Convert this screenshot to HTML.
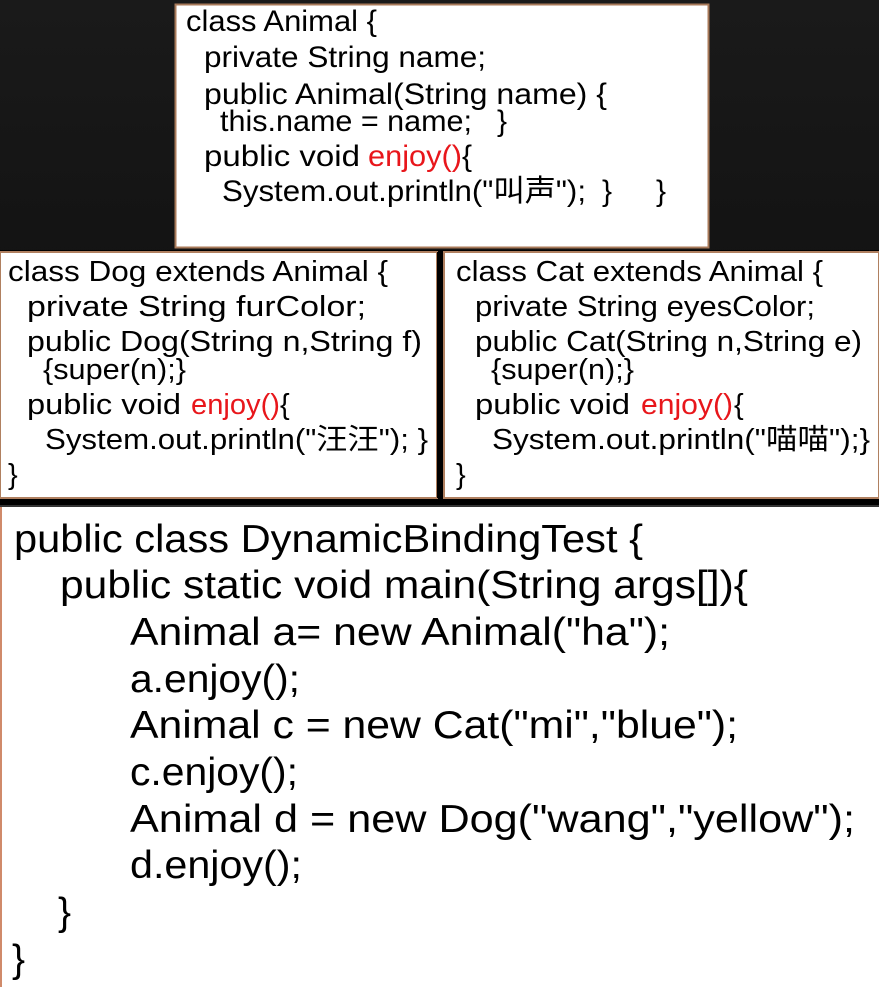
<!DOCTYPE html>
<html><head><meta charset="utf-8"><style>
html,body{margin:0;padding:0;background:#000;}
svg{display:block}
text{font-family:"Liberation Sans","Noto Sans CJK SC",sans-serif;fill:#000;white-space:pre}
.r{fill:#e8161b}
</style></head><body>
<svg width="879" height="987" viewBox="0 0 879 987" xmlns="http://www.w3.org/2000/svg">
<defs><linearGradient id="bg" x1="0" y1="0" x2="0" y2="1"><stop offset="0" stop-color="#1a1a1a"/><stop offset="1" stop-color="#000"/></linearGradient></defs>
<rect width="879" height="987" fill="url(#bg)"/>
<rect x="0" y="250" width="879" height="256" fill="#000"/>
<!-- top box -->
<rect x="175.5" y="4.5" width="533" height="243" fill="#fff" stroke="#a87a5a" stroke-width="2"/>
<g font-size="30">
<text x="186" y="31" textLength="191" lengthAdjust="spacingAndGlyphs">class Animal {</text>
<text x="204" y="67" textLength="282" lengthAdjust="spacingAndGlyphs">private String name;</text>
<text x="204" y="104" textLength="403" lengthAdjust="spacingAndGlyphs">public Animal(String name) {</text>
<text x="220" y="131" textLength="252" lengthAdjust="spacingAndGlyphs">this.name = name;</text>
<text x="497" y="131">}</text>
<text x="204" y="166" textLength="156" lengthAdjust="spacingAndGlyphs">public void</text>
<text x="368" y="166" textLength="94" lengthAdjust="spacingAndGlyphs" class="r">enjoy()</text>
<text x="462" y="166">{</text>
<text x="222" y="201" textLength="364" lengthAdjust="spacingAndGlyphs">System.out.println("叫声");</text>
<text x="602" y="201">}</text>
<text x="656" y="201">}</text>
</g>
<!-- dog box -->
<rect x="0" y="252" width="437" height="246" fill="#fff" stroke="#b08060" stroke-width="2"/>
<rect x="437" y="252" width="7" height="246" fill="#000"/>
<rect x="444" y="252" width="435" height="246" fill="#fff" stroke="#b08060" stroke-width="2"/>
<g font-size="29">
<text x="8" y="281" textLength="380" lengthAdjust="spacingAndGlyphs">class Dog extends Animal {</text>
<text x="27" y="316" textLength="339" lengthAdjust="spacingAndGlyphs">private String furColor;</text>
<text x="27" y="351" textLength="395" lengthAdjust="spacingAndGlyphs">public Dog(String n,String f)</text>
<text x="43" y="379" textLength="143" lengthAdjust="spacingAndGlyphs">{super(n);}</text>
<text x="27" y="414" textLength="154" lengthAdjust="spacingAndGlyphs">public void</text>
<text x="191" y="414" textLength="89" lengthAdjust="spacingAndGlyphs" class="r">enjoy()</text>
<text x="280" y="414">{</text>
<text x="45" y="449" textLength="383" lengthAdjust="spacingAndGlyphs">System.out.println("汪汪"); }</text>
<text x="8" y="484">}</text>

<text x="456" y="281" textLength="367" lengthAdjust="spacingAndGlyphs">class Cat extends Animal {</text>
<text x="475" y="316" textLength="340" lengthAdjust="spacingAndGlyphs">private String eyesColor;</text>
<text x="475" y="351" textLength="387" lengthAdjust="spacingAndGlyphs">public Cat(String n,String e)</text>
<text x="491" y="379" textLength="143" lengthAdjust="spacingAndGlyphs">{super(n);}</text>
<text x="475" y="414" textLength="155" lengthAdjust="spacingAndGlyphs">public void</text>
<text x="641" y="414" textLength="92" lengthAdjust="spacingAndGlyphs" class="r">enjoy()</text>
<text x="734" y="414">{</text>
<text x="492" y="449" textLength="378" lengthAdjust="spacingAndGlyphs">System.out.println("喵喵");}</text>
<text x="456" y="484">}</text>
</g>
<!-- bottom box -->
<rect x="0" y="505" width="879" height="482" fill="#fff"/>
<rect x="0" y="505" width="879" height="2" fill="#333"/>
<rect x="0" y="507" width="2" height="480" fill="#d08a6a"/>
<g font-size="39">
<text x="14" y="552" textLength="629" lengthAdjust="spacingAndGlyphs">public class DynamicBindingTest {</text>
<text x="60" y="598" textLength="688" lengthAdjust="spacingAndGlyphs">public static void main(String args[]){</text>
<text x="130" y="645" textLength="540" lengthAdjust="spacingAndGlyphs">Animal a= new Animal("ha");</text>
<text x="130" y="692" textLength="170" lengthAdjust="spacingAndGlyphs">a.enjoy();</text>
<text x="130" y="738" textLength="608" lengthAdjust="spacingAndGlyphs">Animal c = new Cat("mi","blue");</text>
<text x="130" y="785" textLength="168" lengthAdjust="spacingAndGlyphs">c.enjoy();</text>
<text x="130" y="832" textLength="725" lengthAdjust="spacingAndGlyphs">Animal d = new Dog("wang","yellow");</text>
<text x="130" y="878" textLength="172" lengthAdjust="spacingAndGlyphs">d.enjoy();</text>
<text x="58" y="925">}</text>
<text x="12" y="972">}</text>
</g>
</svg>
</body></html>
